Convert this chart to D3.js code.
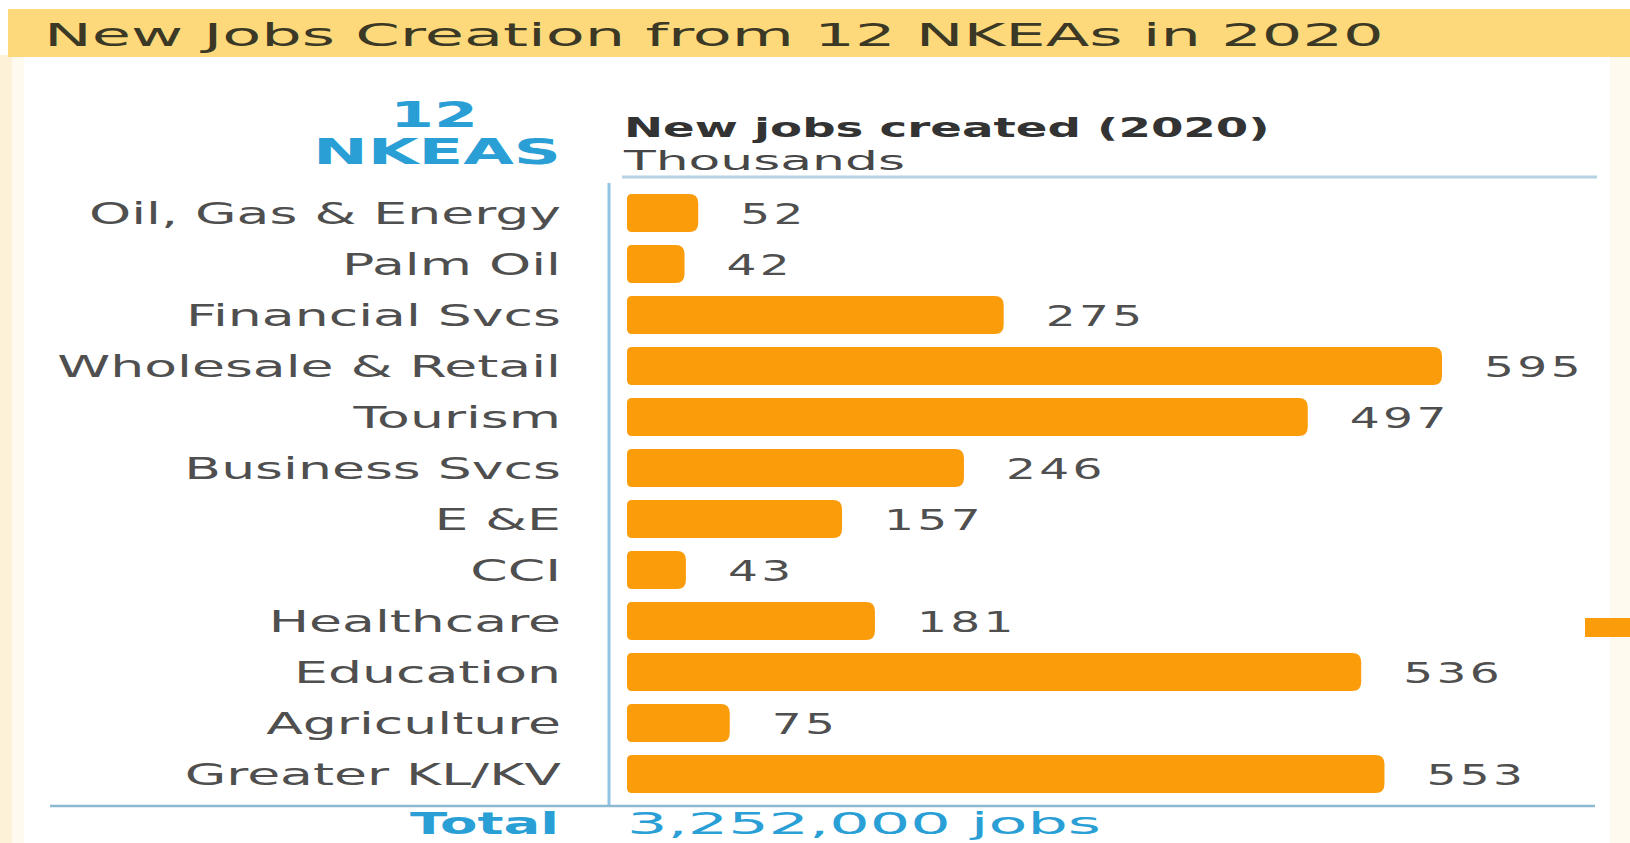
<!DOCTYPE html>
<html>
<head>
<meta charset="utf-8">
<script src="https://cdn.jsdelivr.net/npm/d3@7/dist/d3.min.js"></script>
<style>
  html, body { margin: 0; padding: 0; background: #ffffff; }
  svg { display: block; }
</style>
</head>
<body>
<svg id="chart" width="1630" height="843"></svg>
<script>
// New jobs created per NKEA in 2020, thousands
const categories = [
  "Oil, Gas & Energy", "Palm Oil", "Financial Svcs", "Wholesale & Retail",
  "Tourism", "Business Svcs", "E &E", "CCI", "Healthcare", "Education",
  "Agriculture", "Greater KL/KV"
];
const jobs = [52, 42, 275, 595, 497, 246, 157, 43, 181, 536, 75, 553];
const titleText = "New Jobs Creation from 12 NKEAs in 2020";
const headerLines = ["New jobs created (2020)", "Thousands"];
const badgeLines = ["12", "NKEAS"];
const totalLabel = "Total";
const totalValue = "3,252,000 jobs";

const W = 1630, H = 843;
const svg = d3.select("#chart");
const FONT = "'DejaVu Sans', Verdana, sans-serif";
const GREY = "#4f4f4f";
const BLUE = "#2a9fd6";
const ORANGE = "#fb9c0b";

// Frame: cream side borders and the yellow title banner
svg.append("rect").attr("x", 0).attr("y", 0).attr("width", W).attr("height", H).attr("fill", "#ffffff");
svg.append("rect").attr("x", 0).attr("y", 55).attr("width", 24).attr("height", H - 55).attr("fill", "#fffaf0");
svg.append("rect").attr("x", 0).attr("y", 55).attr("width", 12).attr("height", H - 55).attr("fill", "#fdf1d8");
svg.append("rect").attr("x", W - 20).attr("y", 55).attr("width", 20).attr("height", H - 55).attr("fill", "#fffaef");
svg.append("rect").attr("x", 8).attr("y", 9).attr("width", W - 8).attr("height", 48).attr("fill", "#fdd97b");

// Text squeezed or stretched horizontally so that it spans `width` pixels.
// Returns the horizontal scale used, so a set of labels can share it.
function fittedText(parent, x, y, txt, opts) {
  const g = parent.append("g");
  const t = g.append("text")
    .attr("x", 0).attr("y", 0)
    .attr("text-anchor", opts.anchor || "start")
    .attr("font-family", FONT)
    .attr("font-size", opts.size)
    .attr("font-weight", opts.weight || "normal")
    .attr("letter-spacing", opts.ls || 0)
    .attr("fill", opts.fill)
    .text(txt);
  const natural = t.node().getComputedTextLength();
  const sx = opts.sx != null ? opts.sx : opts.width / natural;
  g.attr("transform", `translate(${x},${y}) scale(${sx},1)`);
  return sx;
}

fittedText(svg, 44, 46, titleText, { width: 1340, size: 32, fill: "#3b3925" });

// Badge "12 NKEAS"
fittedText(svg, 434, 127, badgeLines[0], { width: 88, size: 35, fill: BLUE, weight: "bold", anchor: "middle" });
fittedText(svg, 561, 164, badgeLines[1], { width: 248, size: 35, fill: BLUE, weight: "bold", anchor: "end" });

// Column header
fittedText(svg, 624, 137, headerLines[0], { width: 646, size: 27, fill: "#333333", weight: "bold" });
fittedText(svg, 624, 170, headerLines[1], { width: 281, size: 27, fill: "#474747" });

// Scales
const y = d3.scaleBand()
  .domain(categories)
  .range([187.5, 799.5])
  .paddingInner(0.255)
  .paddingOuter(0.1275);

const x = d3.scaleLinear()
  .domain([0, 595])
  .range([627, 1442]);

// Header rule, axis line, bottom rule
svg.append("line").attr("x1", 622).attr("x2", 1597).attr("y1", 177).attr("y2", 177)
  .attr("stroke", "#b6d3e3").attr("stroke-width", 3);
svg.append("line").attr("x1", 609).attr("x2", 609).attr("y1", 183).attr("y2", 806)
  .attr("stroke", "#8fc4e3").attr("stroke-width", 3);
svg.append("line").attr("x1", 50).attr("x2", 1595).attr("y1", 806).attr("y2", 806)
  .attr("stroke", "#8db8d1").attr("stroke-width", 2.5);

// Bars
const rows = svg.append("g").selectAll("g.row")
  .data(categories.map((c, i) => ({ c, v: jobs[i] })))
  .join("g").attr("class", "row");

rows.append("path")
  .attr("fill", ORANGE)
  .attr("d", d => {
    const x0 = x(0), x1 = x(d.v), y0 = y(d.c), h = y.bandwidth();
    const r = Math.min(9, (x1 - x0) / 2), rl = 5;
    return `M${x0 + rl},${y0} H${x1 - r} Q${x1},${y0} ${x1},${y0 + r} V${y0 + h - r} Q${x1},${y0 + h} ${x1 - r},${y0 + h} H${x0 + rl} Q${x0},${y0 + h} ${x0},${y0 + h - rl} V${y0 + rl} Q${x0},${y0} ${x0 + rl},${y0} Z`;
  });

// Category and value labels share one horizontal scale each,
// taken from the widest entries
const scratch = svg.append("g").attr("opacity", 0);
const labelSx = fittedText(scratch, 0, 0, "Wholesale & Retail", { width: 504, size: 30, fill: GREY });
const valueSx = fittedText(scratch, 0, 0, "595", { width: 100, size: 28, fill: GREY, ls: 2 });
scratch.remove();

rows.each(function (d) {
  const cy = y(d.c) + y.bandwidth() / 2 + 11;
  fittedText(d3.select(this), 561, cy, d.c, { sx: labelSx, size: 30, fill: GREY, anchor: "end" });
  fittedText(d3.select(this), x(d.v) + 42, cy, String(d.v), { sx: valueSx, size: 28, fill: GREY, ls: 2 });
});

// Edge of the neighbouring panel's bar, cut by the frame
svg.append("rect").attr("x", 1585).attr("y", 618).attr("width", 45).attr("height", 19)
  .attr("fill", ORANGE);

// Total line
fittedText(svg, 559, 834, totalLabel, { width: 149, size: 30, fill: BLUE, weight: "bold", anchor: "end" });
fittedText(svg, 627, 834, totalValue, { width: 474, size: 30, fill: BLUE });
</script>
</body>
</html>
